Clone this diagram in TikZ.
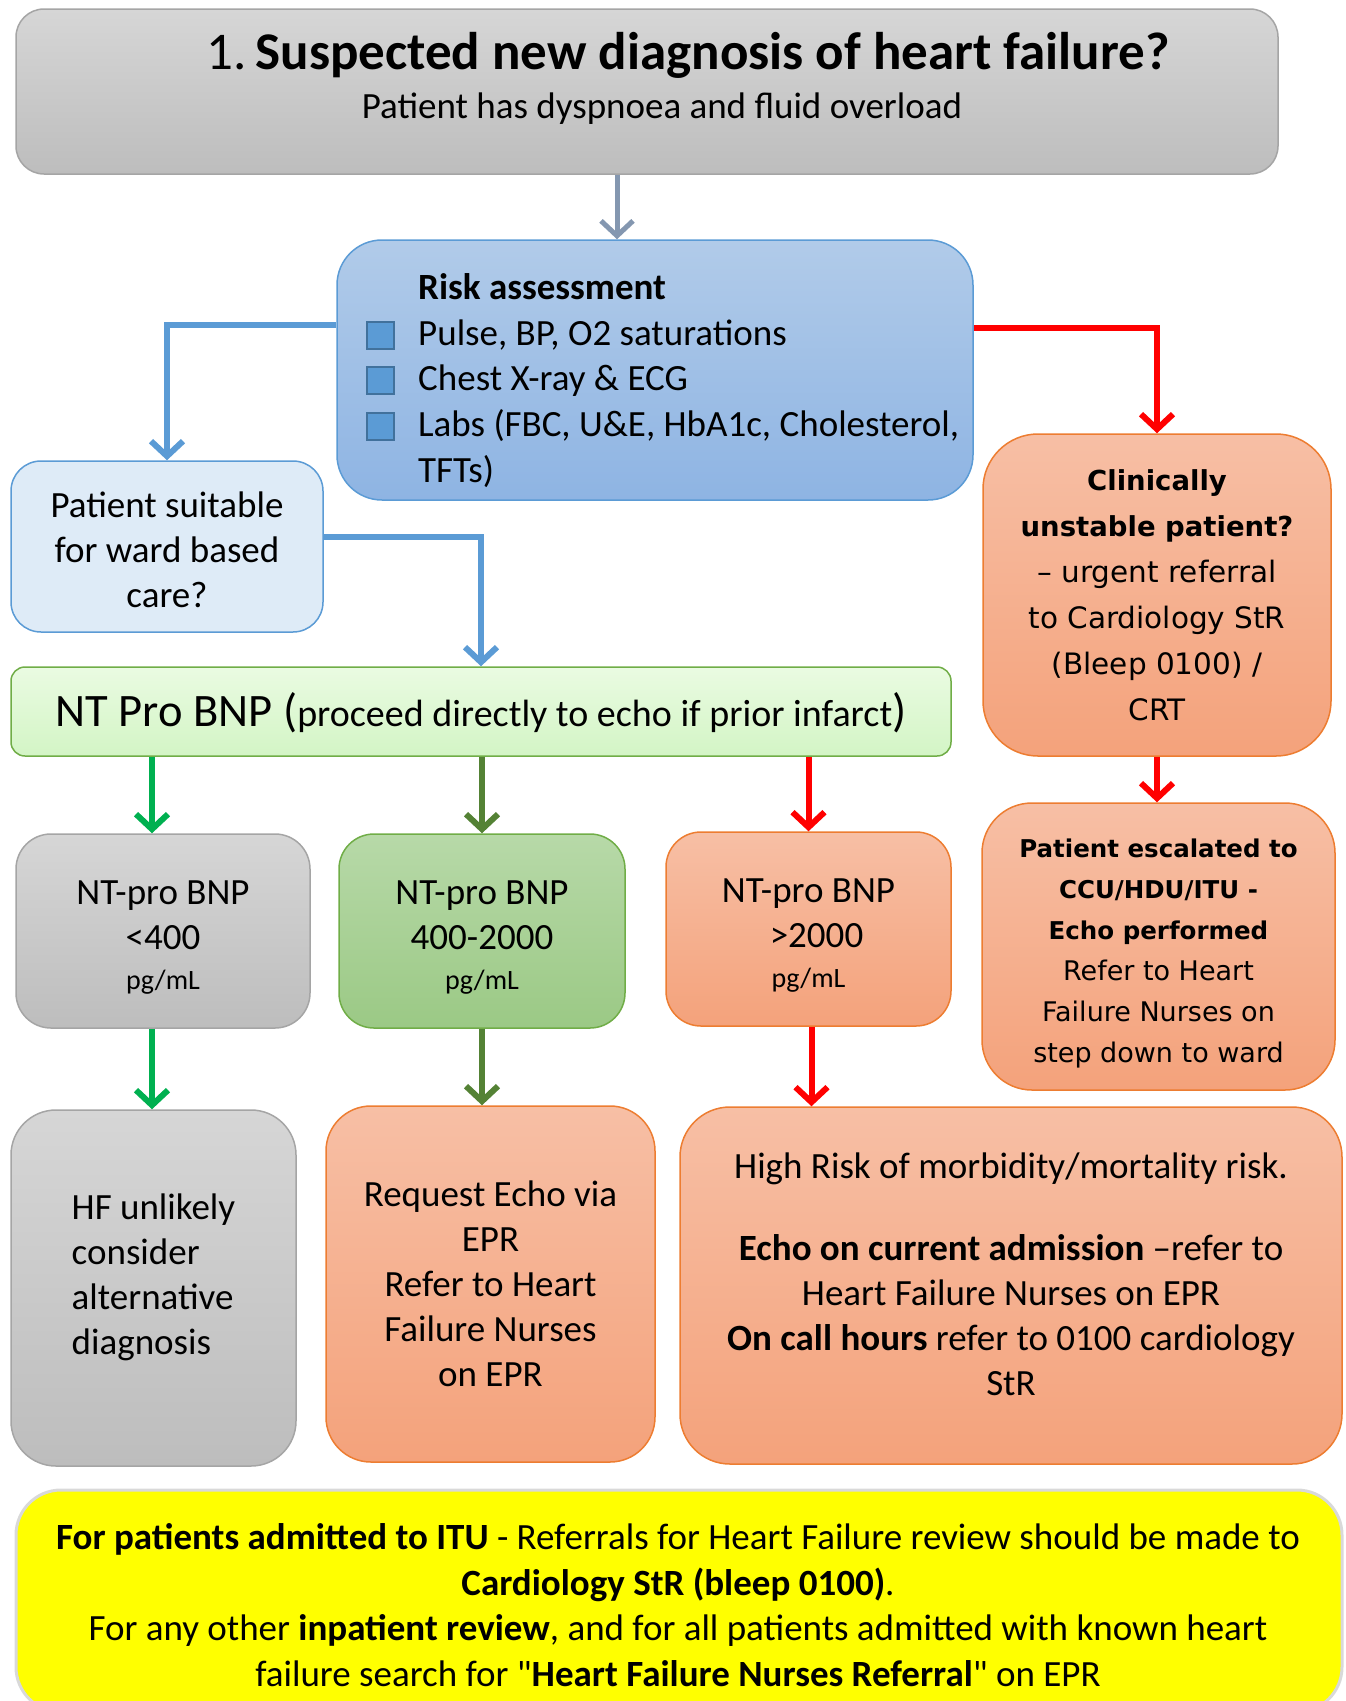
\documentclass[tikz,border=0pt]{standalone}
\usepackage{fontspec}
\setmainfont{Carlito}
\newfontfamily\verdfont{DejaVu Sans}
\usetikzlibrary{arrows.meta,positioning}

\definecolor{greyA}{HTML}{D6D6D6}
\definecolor{greyB}{HTML}{BDBDBD}
\definecolor{greyline}{HTML}{A5A5A5}
\definecolor{blueA}{HTML}{B1CBE9}
\definecolor{blueB}{HTML}{8EB4E3}
\definecolor{blueline}{HTML}{5B9BD5}
\definecolor{suitfill}{HTML}{DEEBF7}
\definecolor{ntA}{HTML}{EAFBE2}
\definecolor{ntB}{HTML}{D3F5C5}
\definecolor{gnA}{HTML}{B7D9A8}
\definecolor{gnB}{HTML}{9BC985}
\definecolor{gnline}{HTML}{70AD47}
\definecolor{orA}{HTML}{F7BFA5}
\definecolor{orB}{HTML}{F4A27B}
\definecolor{orline}{HTML}{ED7D31}
\definecolor{sqline}{HTML}{41719C}
\definecolor{arrgrey}{HTML}{8497B0}
\definecolor{arrgreen}{HTML}{00B050}
\definecolor{arrdkgreen}{HTML}{548235}
\definecolor{notefill}{HTML}{FFFF00}
\definecolor{noteline}{HTML}{D9D9D9}

% strut that pushes a text block down inside its box
\newcommand{\topgap}[1]{\rule{0pt}{#1}}

\begin{document}
\begin{tikzpicture}[x=1pt, y=-1pt,
	card/.style={draw, line width=1.5pt, rounded corners=#1, inner sep=0pt, align=center,
		font=\fontsize{37}{45}\selectfont},
	card/.default=40pt,
	greycard/.style={card=#1, draw=greyline, top color=greyA, bottom color=greyB},
	greycard/.default=40pt,
	orcard/.style={card=#1, draw=orline, top color=orA, bottom color=orB},
	orcard/.default=50pt,
	itemtext/.style={anchor=west, inner sep=0pt, text height=25pt, text depth=8pt,
		font=\fontsize{37}{45}\selectfont},
	tick/.style={draw=sqline, fill=blueline, line width=2pt, minimum size=27pt, inner sep=0pt},
	flow/.style={line width=6pt, -{Straight Barb[length=15pt,width=32pt]}},
	unit/.style={font=\fontsize{28}{34}\selectfont}]

	\useasboundingbox (0,0) rectangle (1346,1701);

	% Nodes: header
	\node [greycard=28pt, minimum width=1262pt, minimum height=165pt] (top) at (647,91.5) {};
	\node [font=\fontsize{53}{60}\selectfont] (title) at (688,55.5) {1.\,\textbf{Suspected new diagnosis of heart failure?}};
	\node [font=\fontsize{37}{45}\selectfont] (subtitle) at (662,109) {Patient has dyspnoea and fluid overload};

	% Nodes: risk assessment
	\node [card=45pt, draw=blueline, top color=blueA, bottom color=blueB,
		minimum width=636pt, minimum height=260pt] (risk) at (655,370) {};
	\node [itemtext] (rhead) at (418,290.5) {\textbf{Risk assessment}};
	\foreach \y/\t [count=\i] in {336.5/{Pulse, BP, O2 saturations}, 381.5/{Chest X-ray \& ECG},
		427.5/{Labs (FBC, U\&E, HbA1c, Cholesterol,}} {
		\node [tick] (sq\i) at (380,\y-1) {};
		\node [itemtext] (item\i) at (418,\y) {\t};
	}
	\node [itemtext] (item4) at (418,473.5) {TFTs)};

	% Nodes: ward / unstable
	\node [card=30pt, draw=blueline, fill=suitfill, minimum width=312pt, minimum height=171pt]
		(suit) at (167,546.5) {\topgap{32pt}Patient suitable\\for ward based\\care?};
	\node [orcard=55pt, minimum width=348pt, minimum height=322pt, font=\verdfont\fontsize{29.5}{46}\selectfont]
		(clin) at (1157,595) {{\fontsize{27.5}{46}\selectfont\bfseries Clinically}\\{\fontsize{27.5}{46}\selectfont\bfseries unstable patient?}\\– urgent referral\\to Cardiology StR\\(Bleep 0100) /\\CRT};
	\node [orcard=50pt, minimum width=353pt, minimum height=287pt, font=\verdfont\fontsize{27}{41}\selectfont]
		(esc) at (1158.5,946.5) {{\fontsize{24.5}{41}\selectfont\bfseries \topgap{32pt}Patient escalated to}\\{\fontsize{24.5}{41}\selectfont\bfseries CCU/HDU/ITU -}\\{\fontsize{24.5}{41}\selectfont\bfseries Echo performed}\\Refer to Heart\\Failure Nurses on\\step down to ward};

	% Nodes: NT pro BNP
	\node [card=14pt, draw=gnline, top color=ntA, bottom color=ntB, minimum width=940pt, minimum height=89pt,
		font=\fontsize{38}{45}\selectfont] (nt) at (481,711.5)
		{\topgap{36pt}{\fontsize{46.5}{45}\selectfont NT Pro BNP (}proceed directly to echo if prior infarct{\fontsize{46.5}{45}\selectfont)}};
	\node [greycard=35pt, minimum width=294pt, minimum height=194pt] (low) at (163,931)
		{\topgap{37pt}NT-pro BNP\\<400\\[-5pt]{\fontsize{28}{34}\selectfont pg/mL}};
	\node [card=35pt, draw=gnline, top color=gnA, bottom color=gnB, minimum width=286pt, minimum height=194pt]
		(mid) at (482,931) {\topgap{37pt}NT-pro BNP\\400-2000\\[-5pt]{\fontsize{28}{34}\selectfont pg/mL}};
	\node [orcard=35pt, minimum width=285pt, minimum height=194pt] (high) at (808.5,929)
		{\topgap{37pt}NT-pro BNP\\\hphantom{x}>2000\\[-5pt]{\fontsize{28}{34}\selectfont pg/mL}};

	% Nodes: outcomes
	\node [greycard=45pt, minimum width=285pt, minimum height=356pt, align=left] (unlikely) at (153.5,1288)
		{HF unlikely\\consider\\alternative\\diagnosis\\[-18pt]};
	\node [orcard=45pt, minimum width=329pt, minimum height=356pt] (echo) at (490.5,1284)
		{Request Echo via\\EPR\\Refer to Heart\\Failure Nurses\\on EPR};
	\node [orcard=50pt, minimum width=662pt, minimum height=357pt] (risky) at (1011,1285.5)
		{High Risk of morbidity/mortality risk.\\[37pt]\textbf{Echo on current admission} –refer to\\Heart Failure Nurses on EPR\\\textbf{On call hours} refer to 0100 cardiology\\StR\\[-22pt]};

	% Nodes: note
	\node [card=45pt, draw=noteline, line width=3pt, fill=notefill, minimum width=1326pt, minimum height=222pt]
		(note) at (679,1601) {};
	\node [font=\fontsize{37}{45.5}\selectfont, align=center] (notetext) at (678,1605)
		{\textbf{For patients admitted to ITU} - Referrals for Heart Failure review should be made to\\
		\textbf{Cardiology StR (bleep 0100)}.\\
		For any other \textbf{inpatient review}, and for all patients admitted with known heart\\
		failure search for \textquotedbl\textbf{Heart Failure Nurses Referral}\textquotedbl{} on EPR};

	% Paths
	\draw [flow, arrgrey, line width=5pt] ([xshift=-38pt]risk.north |- top.south) -- ([xshift=-38pt]risk.north);
	\draw [flow, blueline] ([yshift=45pt]risk.west) -| (suit.north);
	\draw [flow, blueline] ([yshift=10pt]suit.east) -| (nt.north);
	\draw [flow, red] ([yshift=42pt]risk.east) -| (clin.north);
	\draw [flow, red] (clin.south) -- (clin.south |- esc.north);
	\draw [flow, arrgreen] ([xshift=-11pt]low.north |- nt.south) -- ([xshift=-11pt]low.north);
	\draw [flow, arrdkgreen] (mid.north |- nt.south) -- (mid.north);
	\draw [flow, red] (high.north |- nt.south) -- (high.north);
	\draw [flow, arrgreen] ([xshift=-11pt]low.south) -- ([xshift=-11pt]low.south |- unlikely.north);
	\draw [flow, arrdkgreen] (mid.south) -- (mid.south |- echo.north);
	\draw [flow, red] ([xshift=3pt]high.south) -- ([xshift=3pt]high.south |- risky.north);
\end{tikzpicture}
\end{document}
